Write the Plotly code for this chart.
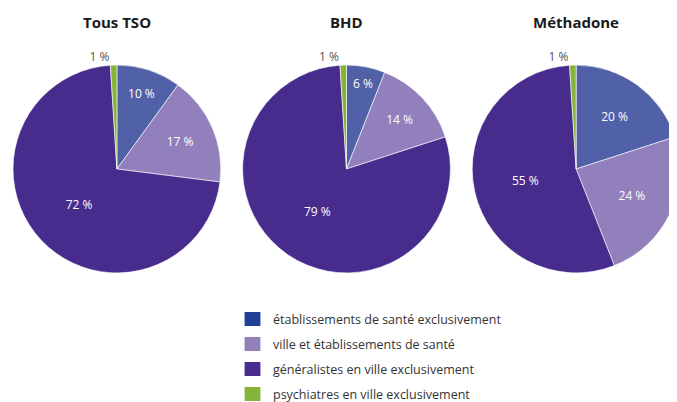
import plotly.graph_objects as go

titles = ["Tous TSO", "BHD", "Méthadone"]
categories = ["établissements de santé exclusivement",
              "ville et établissements de santé",
              "généralistes en ville exclusivement",
              "psychiatres en ville exclusivement"]
tous_tso = [10, 17, 72, 1]
bhd = [6, 14, 79, 1]
methadone = [20, 24, 55, 1]
series = [tous_tso, bhd, methadone]

slice_colors = ["#5061A7", "#9180BC", "#472C8E", "#86B43A"]
legend_colors = ["#1F3E96", "#9180BC", "#472C8E", "#86B43A"]

W, H = 677, 402
OFF = 8  # default page body margin
FONT = "Open Sans"


def px(x):
    return (x - OFF) / W


def py(y):
    return (H - (y - OFF)) / H


fig = go.Figure()
centers_x = [113, 345, 577]
cy = 169
r = 105
for i, (vals, cx) in enumerate(zip(series, centers_x)):
    fig.add_trace(go.Pie(
        labels=categories, values=vals, sort=False, direction="clockwise",
        rotation=0,
        domain=dict(x=[max(px(cx - r), 0), min(px(cx + r), 1.0)],
                    y=[py(cy + r), py(cy - r)]),
        marker=dict(colors=slice_colors, line=dict(color="white", width=0.6)),
        text=[f"{v} %" for v in vals], textinfo="text",
        textposition=["inside", "inside", "inside", "outside"],
        insidetextorientation="horizontal",
        insidetextfont=dict(color="white", size=12, family=FONT),
        outsidetextfont=dict(color="#555555", size=12, family=FONT),
        hoverinfo="label+value", showlegend=False,
    ))
    fig.add_annotation(x=px(cx), y=py(22), xref="paper", yref="paper",
                       text=f"<b>{titles[i]}</b>", showarrow=False,
                       xanchor="center", yanchor="middle",
                       font=dict(size=15, color="#1a1a1a", family=FONT))

# custom legend
for j, (lab, col) in enumerate(zip(categories, legend_colors)):
    yc = 319 + 25 * j
    fig.add_shape(type="rect", xref="paper", yref="paper",
                  x0=px(242), x1=px(258), y0=py(yc + 7), y1=py(yc - 7),
                  fillcolor=col, line=dict(width=0))
    fig.add_annotation(x=px(269), y=py(yc), xref="paper", yref="paper",
                       text=lab, showarrow=False, xanchor="left", yanchor="middle",
                       font=dict(size=12.5, color="#333333", family=FONT))

fig.update_layout(width=W, height=H, margin=dict(l=0, r=0, t=0, b=0),
                  paper_bgcolor="white", plot_bgcolor="white",
                  font=dict(family=FONT))
fig.write_html("out.html")
